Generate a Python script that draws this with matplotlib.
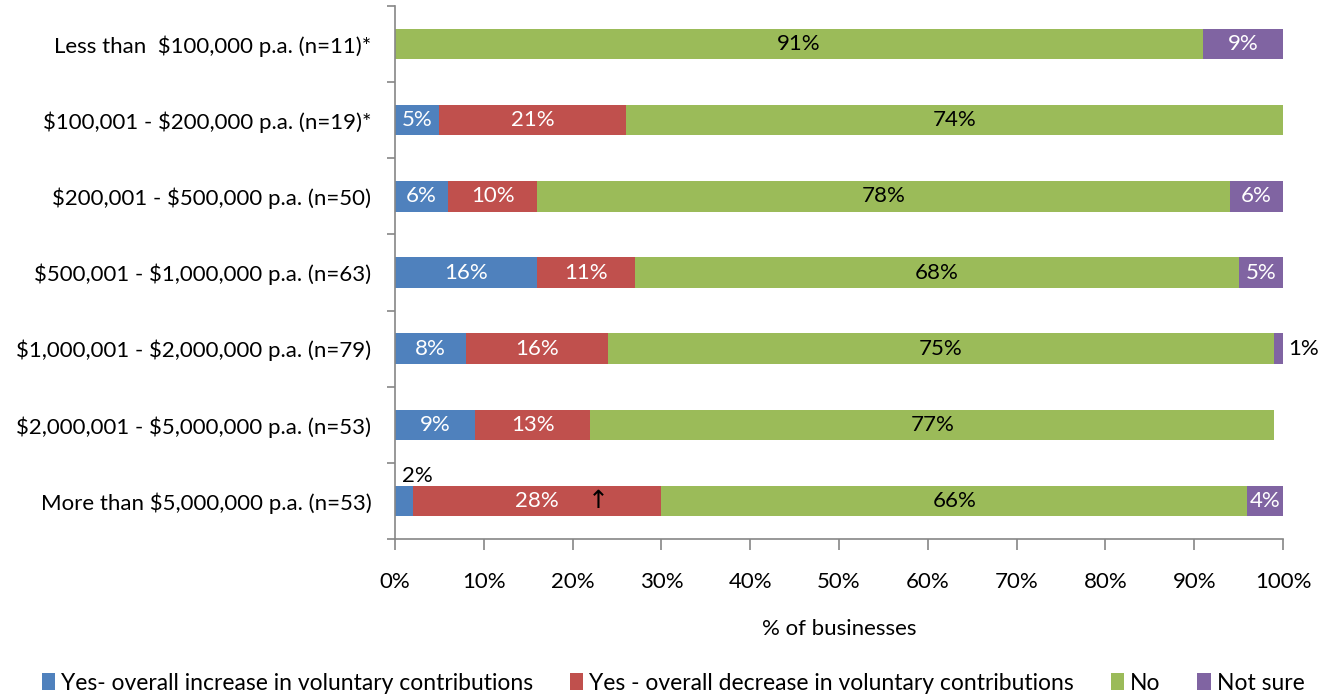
import matplotlib
matplotlib.use("Agg")
import matplotlib.pyplot as plt
from matplotlib.patches import Patch
import numpy as np

plt.rcParams['font.family'] = ['Lato', 'DejaVu Sans']
plt.rcParams['text.parse_math'] = False

categories = [
    "Less than  $100,000 p.a. (n=11)*",
    "$100,001 - $200,000 p.a. (n=19)*",
    "$200,001 - $500,000 p.a. (n=50)",
    "$500,001 - $1,000,000 p.a. (n=63)",
    "$1,000,001 - $2,000,000 p.a. (n=79)",
    "$2,000,001 - $5,000,000 p.a. (n=53)",
    "More than $5,000,000 p.a. (n=53)",
]
series_names = [
    "Yes- overall increase in voluntary contributions",
    "Yes - overall decrease in voluntary contributions",
    "No",
    "Not sure",
]
increase = [0, 5, 6, 16, 8, 9, 2]
decrease = [0, 21, 10, 11, 16, 13, 28]
no = [91, 74, 78, 68, 75, 77, 66]
not_sure = [9, 0, 6, 5, 1, 0, 4]
x_ticks = [0, 10, 20, 30, 40, 50, 60, 70, 80, 90, 100]

colors = ["#4F81BD", "#C0504D", "#9BBB59", "#8064A2"]
label_colors = ["white", "white", "black", "white"]
FS = 16

fig = plt.figure(figsize=(13.33, 6.97), dpi=100)
ax = fig.add_axes([395 / 1333, 1 - 539 / 697, (1283 - 395) / 1333, (539 - 6) / 697])

y = np.arange(len(categories))
left = np.zeros(len(categories))
series = [increase, decrease, no, not_sure]
for vals, col, lcol in zip(series, colors, label_colors):
    vals = np.array(vals, dtype=float)
    ax.barh(y, vals, left=left, height=0.4, color=col, edgecolor="none")
    for i, v in enumerate(vals):
        if v == 0:
            continue
        cx = left[i] + v / 2
        if v <= 2 and col == colors[0]:
            ax.text(cx + 1.5, i - 0.33, f"{int(v)}%", ha="center", va="center",
                    fontsize=FS, color="black")
        elif v <= 2:
            ax.text(left[i] + v + 0.6, i, f"{int(v)}%", ha="left", va="center",
                    fontsize=FS, color="black")
        else:
            ax.text(cx, i, f"{int(v)}%", ha="center", va="center",
                    fontsize=FS, color=lcol)
    left += vals

# significant increase marker
ax.text(22.9, 6, "\u2191", ha="center", va="center", fontsize=18, color="black",
        family=['DejaVu Sans'])

ax.set_xlim(0, 100)
ax.set_ylim(6.5, -0.5)
ax.set_xticks(x_ticks)
ax.set_xticklabels([f"{t}%" for t in x_ticks], fontsize=FS)
ax.set_yticks(y)
ax.set_yticklabels(categories, fontsize=FS)
ax.set_yticks(np.arange(-0.5, len(categories), 1), minor=True)
ax.tick_params(axis="y", which="major", length=0, pad=17)
ax.tick_params(axis="y", which="minor", length=6, color="#868686", width=1.2)
ax.tick_params(axis="x", length=8, color="#868686", width=1.2, pad=16)

for s in ["top", "right"]:
    ax.spines[s].set_visible(False)
for s in ["left", "bottom"]:
    ax.spines[s].set_color("#868686")
    ax.spines[s].set_linewidth(1.2)

ax.set_xlabel("% of businesses", fontsize=FS, labelpad=19)

handles = [Patch(facecolor=c, edgecolor="none") for c in colors]
fig.legend(handles, series_names, loc="center", bbox_to_anchor=(0.505, 1 - 683 / 697),
           ncol=4, frameon=False, fontsize=16.5, handlelength=0.57, handleheight=0.75,
           handletextpad=0.28, columnspacing=1.6, borderpad=0.2)

fig.savefig("out.png", dpi=100)
